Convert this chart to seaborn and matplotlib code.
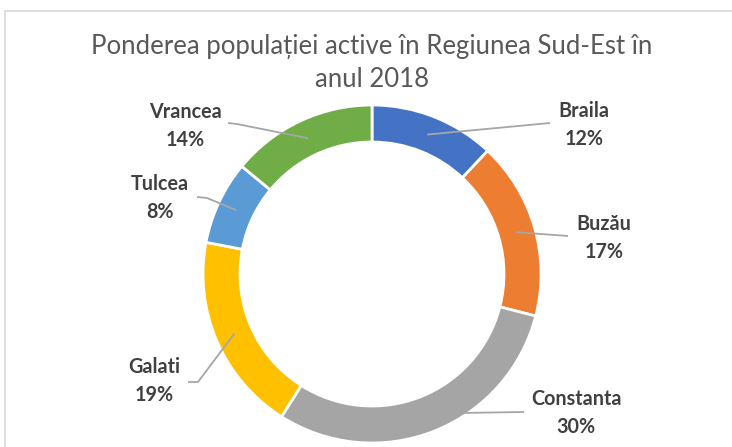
import matplotlib
matplotlib.use("Agg")
import matplotlib.pyplot as plt
import seaborn as sns
import numpy as np
from matplotlib.patches import Rectangle

# date: ponderea populatiei active pe judete
judete = ["Braila", "Buzău", "Constanta", "Galati", "Tulcea", "Vrancea"]
procente = [12, 17, 30, 19, 8, 14]
culori = ["#4472C4", "#ED7D31", "#A5A5A5", "#FFC000", "#5B9BD5", "#70AD47"]
titlu = "Ponderea populației active în Regiunea Sud-Est în\nanul 2018"

sns.set_theme(style="white")
plt.rcParams["font.family"] = ["Lato", "DejaVu Sans"]

W, H = 732, 447
fig = plt.figure(figsize=(W / 100, H / 100), dpi=100)
ax = fig.add_axes([0, 0, 1, 1])

# centrul si raza in pixeli (y numarat de jos)
cx, cy, R = 372, H - 274, 169
wedges, _ = ax.pie(procente, colors=sns.color_palette(culori), startangle=90,
                   counterclock=False, center=(cx, cy), radius=R,
                   wedgeprops=dict(width=37, edgecolor="white", linewidth=2))
ax.set_xlim(0, W)
ax.set_ylim(0, H)
ax.set_aspect("auto")
ax.axis("off")

# pozitia etichetelor (px, de sus) si capatul liniei de ghidare
etichete = {
    "Braila":    ((584, 125), [(550, 123)]),
    "Buzău":     ((604, 238), [(568, 236)]),
    "Constanta": ((576, 413), [(524, 412)]),
    "Galati":    ((154, 381), [(198, 382), (188, 382)]),
    "Tulcea":    ((160, 198), [(207, 198), (197, 197)]),
    "Vrancea":   ((185, 126), [(237, 124), (228, 123)]),
}

for w, nume, p in zip(wedges, judete, procente):
    ang = np.deg2rad((w.theta1 + w.theta2) / 2)
    r0 = R - 19
    x0, y0 = cx + r0 * np.cos(ang), cy + r0 * np.sin(ang)
    (tx, ty), pts = etichete[nume]
    xs = [x0] + [q[0] for q in pts]
    ys = [y0] + [H - q[1] for q in pts]
    ax.plot(xs, ys, color="#A6A6A6", lw=1.3, solid_capstyle="butt")
    ax.text(tx, H - ty, f"{nume}\n{p}%", ha="center", va="center",
            fontsize=14.2, fontweight="bold", color="#404040", linespacing=1.45)

ax.text(372, H - 63, titlu, ha="center", va="center", fontsize=18.5,
        color="#595959", linespacing=1.42)

# chenarul graficului
fig.patches.append(Rectangle((5, -10), W, H - 11 + 10, transform=None,
                             fill=False, edgecolor="#D9D9D9", lw=1.2))

fig.savefig("out.png", dpi=100)
